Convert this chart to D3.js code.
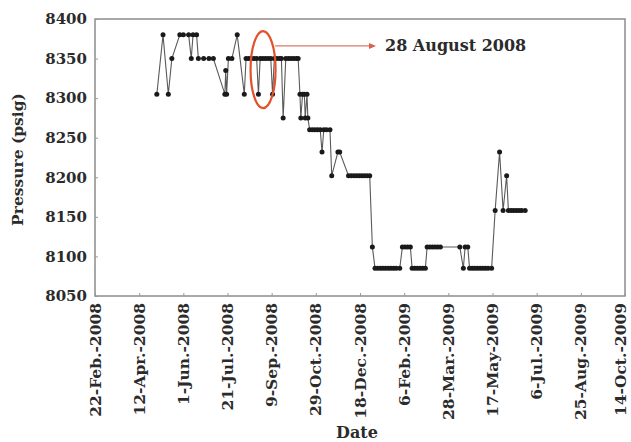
<!DOCTYPE html>
<html>
<head>
<meta charset="utf-8">
<script src="https://cdn.jsdelivr.net/npm/d3@7"></script>
<style>
  html, body { margin: 0; padding: 0; background: #fff; }
  svg text { font-family: "DejaVu Serif", serif; font-weight: bold; fill: #2b2b2b; }
</style>
</head>
<body>
<svg id="chart" width="631" height="442"></svg>
<script>
// pressure readings
var dates = [
  "2008-05-02","2008-05-09","2008-05-15","2008-05-19","2008-05-28","2008-06-01","2008-06-07","2008-06-10",
  "2008-06-12","2008-06-16","2008-06-18","2008-06-24","2008-06-30","2008-07-05","2008-07-18","2008-07-19",
  "2008-07-20","2008-07-22","2008-07-26","2008-08-01","2008-08-09","2008-08-11","2008-08-14","2008-08-17",
  "2008-08-20","2008-08-23","2008-08-25","2008-08-27","2008-08-30","2008-09-02","2008-09-05","2008-09-08",
  "2008-09-10","2008-09-12","2008-09-15","2008-09-18","2008-09-20","2008-09-22","2008-09-25","2008-09-28",
  "2008-10-01","2008-10-04","2008-10-07","2008-10-09","2008-10-11","2008-10-12","2008-10-14","2008-10-16",
  "2008-10-17","2008-10-19","2008-10-20","2008-10-22","2008-10-25","2008-10-28","2008-10-31","2008-11-03",
  "2008-11-05","2008-11-07","2008-11-10","2008-11-14","2008-11-16","2008-11-23","2008-11-25","2008-12-05",
  "2008-12-08","2008-12-11","2008-12-14","2008-12-17","2008-12-20","2008-12-23","2008-12-26","2008-12-29",
  "2009-01-01","2009-01-04","2009-01-07","2009-01-10","2009-01-13","2009-01-16","2009-01-19","2009-01-22",
  "2009-01-25","2009-01-28","2009-02-01","2009-02-04","2009-02-07","2009-02-10","2009-02-13","2009-02-15",
  "2009-02-18","2009-02-21","2009-02-24","2009-02-27","2009-03-02","2009-03-04","2009-03-07","2009-03-10",
  "2009-03-13","2009-03-16","2009-03-19","2009-04-10","2009-04-14","2009-04-16","2009-04-19","2009-04-21",
  "2009-04-24","2009-04-27","2009-04-30","2009-05-03","2009-05-06","2009-05-09","2009-05-12","2009-05-16",
  "2009-05-20","2009-05-25","2009-05-29","2009-06-02","2009-06-04","2009-06-07","2009-06-10","2009-06-13",
  "2009-06-16","2009-06-19","2009-06-23"
];
var pressure = [
  8305,8380,8305,8350,8380,8380,8380,8350,
  8380,8380,8350,8350,8350,8350,8305,8335,
  8305,8350,8350,8380,8305,8350,8350,8350,
  8350,8350,8305,8350,8350,8350,8350,8350,
  8305,8350,8350,8350,8350,8275,8350,8350,
  8350,8350,8350,8350,8305,8275,8305,8305,
  8275,8305,8275,8260,8260,8260,8260,8260,
  8232,8260,8260,8260,8202,8232,8232,8202,
  8202,8202,8202,8202,8202,8202,8202,8202,
  8112,8085,8085,8085,8085,8085,8085,8085,
  8085,8085,8085,8112,8112,8112,8112,8085,
  8085,8085,8085,8085,8085,8112,8112,8112,
  8112,8112,8112,8112,8085,8112,8112,8085,
  8085,8085,8085,8085,8085,8085,8085,8085,
  8158,8232,8158,8202,8158,8158,8158,8158,
  8158,8158,8158
];

var tickDates = ["2008-02-22","2008-04-12","2008-06-01","2008-07-21","2008-09-09","2008-10-29","2008-12-18",
                 "2009-02-06","2009-03-28","2009-05-17","2009-07-06","2009-08-25","2009-10-14"];
var tickLabels = ["22-Feb.-2008","12-Apr.-2008","1-Jun.-2008","21-Jul.-2008","9-Sep.-2008","29-Oct.-2008","18-Dec.-2008",
                  "6-Feb.-2009","28-Mar.-2009","17-May-2009","6-Jul.-2009","25-Aug.-2009","14-Oct.-2009"];
var yTicks = [8050, 8100, 8150, 8200, 8250, 8300, 8350, 8400];

var annotDate = "2008-08-28", annotText = "28 August 2008";

var parse = d3.utcParse("%Y-%m-%d");
var data = dates.map(function(d, i) { return { date: parse(d), value: pressure[i] }; });

var plotL = 95, plotR = 625, plotT = 19, plotB = 296;
var svg = d3.select("#chart");

var x = d3.scaleUtc()
    .domain([parse(tickDates[0]), parse(tickDates[tickDates.length - 1])])
    .range([plotL, plotR]);
var y = d3.scaleLinear().domain([8050, 8400]).range([plotB, plotT]);

// frame
svg.append("rect")
    .attr("x", plotL).attr("y", plotT)
    .attr("width", plotR - plotL).attr("height", plotB - plotT)
    .attr("fill", "none").attr("stroke", "#8c8c8c").attr("stroke-width", 1.5);

// y axis
var yAxis = svg.append("g").attr("transform", "translate(" + plotL + ",0)")
    .call(d3.axisLeft(y).tickValues(yTicks).tickSize(-3).tickPadding(8).tickFormat(d3.format("d")));
yAxis.select(".domain").remove();
yAxis.selectAll("line").attr("stroke", "#999");
yAxis.selectAll("text").style("font-size", "15px").attr("fill", "#2b2b2b");

// x axis
var xAxis = svg.append("g").attr("transform", "translate(0," + plotB + ")")
    .call(d3.axisBottom(x).tickValues(tickDates.map(parse)).tickSize(-3)
      .tickFormat(function(d, i) { return tickLabels[i]; }));
xAxis.select(".domain").remove();
xAxis.selectAll("line").attr("stroke", "#999");
xAxis.selectAll("text")
    .style("font-size", "15.5px").attr("fill", "#2b2b2b")
    .attr("text-anchor", "end")
    .attr("transform", "rotate(-90)")
    .attr("x", -7)
    .attr("y", function(d, i) { return i === tickLabels.length - 1 ? -5 : 0; })
    .attr("dy", "0.33em");

// axis titles
svg.append("text").attr("x", 357).attr("y", 438)
    .attr("text-anchor", "middle").style("font-size", "16px").text("Date");
svg.append("text").attr("transform", "translate(23," + ((plotT + plotB) / 2 + 2) + ") rotate(-90)")
    .attr("text-anchor", "middle").style("font-size", "15.5px").text("Pressure (psig)");

// series
var line = d3.line().x(function(d) { return x(d.date); }).y(function(d) { return y(d.value); });
svg.append("path").datum(data)
    .attr("d", line).attr("fill", "none").attr("stroke", "#5a5a5a").attr("stroke-width", 1.1);
svg.selectAll("circle.pt").data(data).enter().append("circle")
    .attr("class", "pt")
    .attr("cx", function(d) { return x(d.date); })
    .attr("cy", function(d) { return y(d.value); })
    .attr("r", 2.5).attr("fill", "#1a1a1a");

// annotation
var ax = x(parse(annotDate));
svg.append("ellipse")
    .attr("cx", ax + 2).attr("cy", y(8336)).attr("rx", 12.5).attr("ry", 38.5)
    .attr("fill", "none").attr("stroke", "#e2512c").attr("stroke-width", 2.2);
var ay = y(8366);
svg.append("line")
    .attr("x1", ax + 14).attr("y1", ay).attr("x2", 371).attr("y2", ay)
    .attr("stroke", "#d97a6a").attr("stroke-width", 1.1);
svg.append("path")
    .attr("d", "M369," + (ay - 3) + "L376," + ay + "L369," + (ay + 3) + "Z")
    .attr("fill", "#d9604a");
svg.append("text").attr("x", 385).attr("y", ay + 5)
    .style("font-size", "16px").text(annotText);
</script>
</body>
</html>
